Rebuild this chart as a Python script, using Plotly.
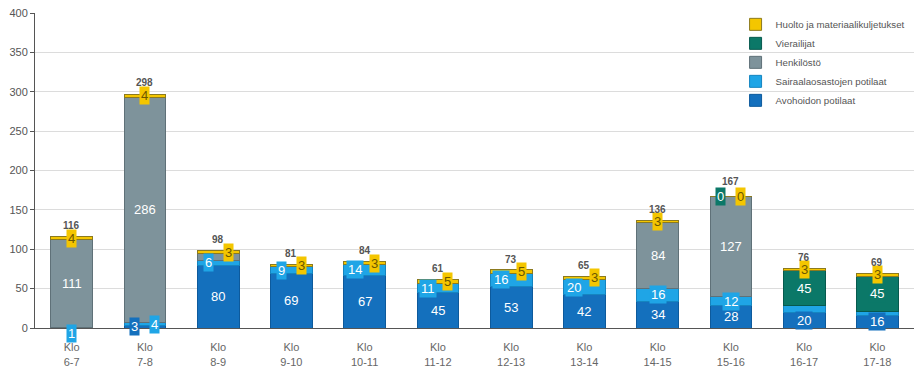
import plotly.graph_objects as go

# Kellonajat (x-akseli)
tunnit = ["6-7", "7-8", "8-9", "9-10", "10-11", "11-12", "12-13",
          "13-14", "14-15", "15-16", "16-17", "17-18"]
kategoriat = ["Klo<br>" + t for t in tunnit]

# Sarjat alhaalta ylös
avohoito = [0, 3, 80, 69, 67, 45, 53, 42, 34, 28, 20, 16]
sairaala = [1, 4, 6, 9, 14, 11, 16, 20, 16, 12, 8, 5]
henkilosto = [111, 286, 9, 0, 0, 0, 0, 0, 84, 127, 0, 0]
vierailijat = [0, 0, 0, 0, 0, 0, 0, 0, 0, 0, 45, 45]
huolto = [4, 4, 3, 3, 3, 5, 5, 3, 3, 0, 3, 3]
yhteensa = [116, 298, 98, 81, 84, 61, 73, 65, 136, 167, 76, 69]

sarjat = [
    ("Avohoidon potilaat", avohoito, "#1470bd", "#0d5a9c", "white"),
    ("Sairaalaosastojen potilaat", sairaala, "#1fa5e6", "#1585c0", "white"),
    ("Henkilöstö", henkilosto, "#7e939b", "#5f7178", "white"),
    ("Vierailijat", vierailijat, "#0b7868", "#075a4e", "white"),
    ("Huolto ja materiaalikuljetukset", huolto, "#f4c600", "#8c7a1e", "#6b5600"),
]

# Arvolappujen vaakasiirto pikseleinä, None = ei lappua
siirrot = [
    [None, -10, 0, 0, 0, 0, 0, 0, 0, 0, 0, 0],
    [0, 10, -10, -10, -10, -10, -10, -10, 0, 0, None, None],
    [0, 0, None, None, None, None, None, None, 0, 0, None, None],
    [None, None, None, None, None, None, None, None, None, -10, 0, 0],
    [0, 0, 10, 10, 10, 10, 10, 10, 0, 10, 0, 0],
]

fig = go.Figure()
for nimi, arvot, vari, reuna, _ in sarjat:
    fig.add_trace(go.Bar(
        x=kategoriat, y=arvot, name=nimi,
        marker=dict(color=vari, line=dict(color=reuna, width=1)),
        hoverinfo="skip",
    ))

annotations = []
pohja = [0] * len(kategoriat)
for (nimi, arvot, vari, reuna, tekstivari), siirto in zip(sarjat, siirrot):
    for i, v in enumerate(arvot):
        if siirto[i] is not None:
            y = pohja[i] + v / 2
            ys = 0
            if nimi.startswith("Sairaala") and i == 0:
                y, ys = 0, -5
            annotations.append(dict(
                x=kategoriat[i], y=y, text=str(v), showarrow=False,
                xshift=siirto[i], yshift=ys, bgcolor=vari, borderpad=1,
                font=dict(size=13, color=tekstivari, family="Liberation Sans, Arial, sans-serif"),
            ))
        pohja[i] += v

for i, t in enumerate(yhteensa):
    annotations.append(dict(
        x=kategoriat[i], y=t, text="<b>%d</b>" % t, showarrow=False,
        yshift=11 if huolto[i] else 15,
        font=dict(size=10, color="#555555", family="Liberation Sans, Arial, sans-serif"),
    ))

fig.update_layout(
    barmode="stack",
    bargap=0.43,
    width=919, height=369,
    margin=dict(l=35, r=5, t=13, b=41),
    plot_bgcolor="white", paper_bgcolor="white",
    font=dict(family="Liberation Sans, Arial, sans-serif", color="#555555", size=11),
    showlegend=True,
    legend=dict(
        x=0.797, y=1.01, xanchor="left", yanchor="top",
        traceorder="reversed", bgcolor="rgba(0,0,0,0)",
        font=dict(size=9.7, color="#555555"),
        itemwidth=30, tracegroupgap=0,
    ),
    annotations=annotations,
    xaxis=dict(
        showline=True, linecolor="#555555", linewidth=1,
        tickfont=dict(size=11, color="#666666", family="Liberation Sans Narrow, Arial Narrow, sans-serif"),
        ticks="outside", ticklen=9, tickcolor="rgba(0,0,0,0)",
        automargin=False, fixedrange=True,
    ),
    yaxis=dict(
        range=[0, 400], dtick=50,
        showgrid=True, gridcolor="#dcdcdc", gridwidth=1,
        showline=True, linecolor="#555555", linewidth=1,
        ticks="outside", ticklen=4, tickcolor="#555555",
        tickfont=dict(size=11, color="#555555"),
        zeroline=False, automargin=False, fixedrange=True,
    ),
)

fig.write_html("out.html", config={"displayModeBar": False},
               post_script="document.body.style.margin='0';")
